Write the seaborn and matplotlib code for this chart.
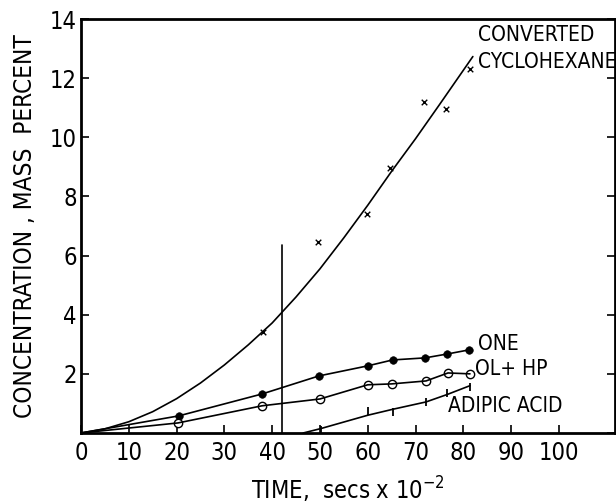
import matplotlib
matplotlib.use("Agg")
import matplotlib.pyplot as plt
import seaborn as sns

# ---- data ----
cyc_x = [38, 49.6, 59.8, 64.6, 71.8, 76.4, 81.4]
cyc_y = [3.4, 6.47, 7.39, 8.95, 11.19, 10.95, 12.3]
cyc_curve_x = [0, 5, 10, 15, 20, 25, 30, 35, 40, 45, 50, 55, 60, 65, 70, 75, 82]
cyc_curve_y = [0, 0.14, 0.38, 0.72, 1.16, 1.69, 2.3, 2.98, 3.72, 4.6, 5.55, 6.6, 7.7, 8.85, 9.95, 11.1, 12.73]

one_x = [0, 20.5, 37.9, 49.8, 60, 65.2, 72, 76.6, 81.2]
one_y = [0, 0.58, 1.32, 1.93, 2.27, 2.47, 2.54, 2.67, 2.81]

olhp_x = [0, 20.3, 37.9, 50, 60, 65, 72.2, 76.8, 81.4]
olhp_y = [0, 0.34, 0.92, 1.15, 1.63, 1.66, 1.76, 2.03, 2.0]

adip_x = [50.2, 60, 65.2, 72.2, 76.6, 81.4]
adip_y = [0.1, 0.75, 0.71, 1.05, 1.35, 1.57]
adip_line_x = [46.5, 50.2, 60, 65.2, 72.2, 76.6, 81.4]
adip_line_y = [0, 0.15, 0.6, 0.8, 1.05, 1.3, 1.6]

vline_x = 42
vline_top = 6.37

x_ticks = [0, 10, 20, 30, 40, 50, 60, 70, 80, 90, 100]
y_ticks = [0, 2, 4, 6, 8, 10, 12, 14]
y_tick_labels = ["", "2", "4", "6", "8", "10", "12", "14"]

sns.set_theme(style="white")
plt.rcParams['font.family'] = ['DejaVu Sans']
plt.rcParams['font.stretch'] = 'condensed'
plt.rcParams['text.color'] = 'black'
plt.rcParams['axes.labelcolor'] = 'black'

fig = plt.figure(figsize=(6.16, 5.04), dpi=100)
ax = fig.add_axes([0.1315, 0.1409, 0.8665, 0.8214])

lw = 1.2
sns.lineplot(x=cyc_curve_x, y=cyc_curve_y, ax=ax, color="black", lw=lw, sort=False)
sns.scatterplot(x=cyc_x, y=cyc_y, ax=ax, marker="x", color="black", s=16, linewidth=1.0)

sns.lineplot(x=one_x, y=one_y, ax=ax, color="black", lw=lw, sort=False)
sns.scatterplot(x=one_x[1:], y=one_y[1:], ax=ax, marker="o", color="black", s=30, edgecolor="black")

sns.lineplot(x=olhp_x, y=olhp_y, ax=ax, color="black", lw=lw, sort=False)
sns.scatterplot(x=olhp_x[1:], y=olhp_y[1:], ax=ax, marker="o", facecolor="white", s=36,
                edgecolor="black", linewidth=1.0)

sns.lineplot(x=adip_line_x, y=adip_line_y, ax=ax, color="black", lw=lw, sort=False)
sns.scatterplot(x=adip_x, y=adip_y, ax=ax, marker="|", color="black", s=40, linewidth=1.3)

ax.plot([vline_x, vline_x], [0, vline_top], color="black", lw=1.2)

ax.set_xlim(0, 111.7)
ax.set_ylim(0, 14)
ax.set_xticks(x_ticks)
ax.set_xticklabels([str(t) for t in x_ticks], fontsize=17)
ax.set_yticks(y_ticks)
ax.set_yticklabels(y_tick_labels, fontsize=17)
ax.tick_params(axis="both", direction="in", length=6, width=1.2, colors="black",
               right=True, left=True, bottom=True, top=False)
ax.tick_params(axis="x", pad=6)
ax.tick_params(axis="y", labelright=False, pad=3)
for sp in ax.spines.values():
    sp.set_linewidth(2.0)
    sp.set_color("black")

ax.set_xlabel(r"TIME,  secs x 10$^{-2}$", fontsize=17, labelpad=7)
ax.set_ylabel("CONCENTRATION , MASS  PERCENT", fontsize=17.5, labelpad=9)

ax.text(83, 13.45, "CONVERTED", fontsize=15, va="center", ha="left")
ax.text(83, 12.55, "CYCLOHEXANE", fontsize=15, va="center", ha="left")
ax.text(83, 3.0, "ONE", fontsize=15, va="center", ha="left")
ax.text(82.5, 2.15, "OL+ HP", fontsize=15, va="center", ha="left")
ax.text(76.8, 0.9, "ADIPIC ACID", fontsize=15, va="center", ha="left")

fig.savefig("out.png", dpi=100, facecolor="white")
